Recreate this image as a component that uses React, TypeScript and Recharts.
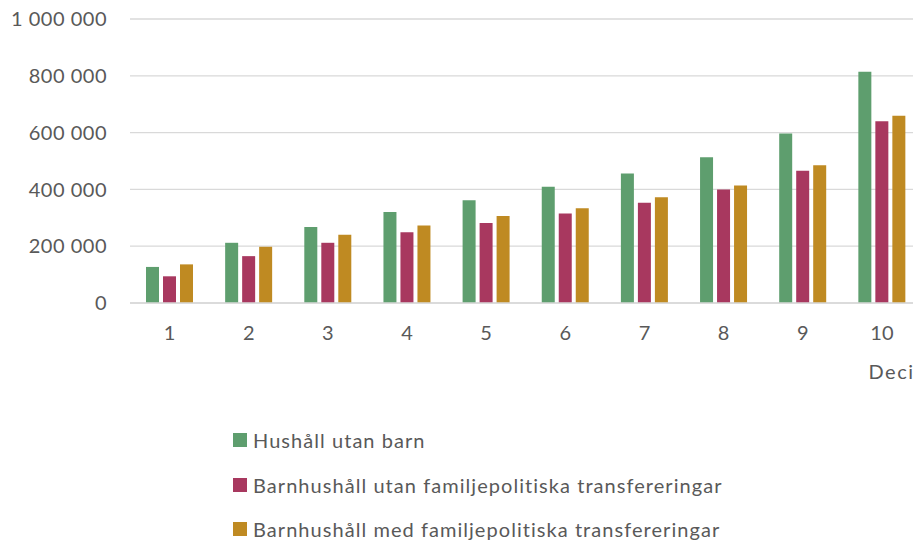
import { BarChart, Bar, XAxis, YAxis, CartesianGrid, Legend } from 'recharts'

const deciles = ['1', '2', '3', '4', '5', '6', '7', '8', '9', '10']
const utanBarn = [127000, 212000, 268000, 320000, 362000, 409000, 456000, 513000, 597000, 814000]
const barnUtanTransf = [94000, 165000, 212000, 249000, 282000, 315000, 353000, 400000, 466000, 640000]
const barnMedTransf = [136000, 198000, 240000, 273000, 306000, 334000, 372000, 414000, 485000, 659000]
const yTicks = [0, 200000, 400000, 600000, 800000, 1000000]

const series = [
  { key: 'utanBarn', name: 'Hushåll utan barn', color: '#5E9E6E' },
  { key: 'barnUtan', name: 'Barnhushåll utan familjepolitiska transfereringar', color: '#A8385F' },
  { key: 'barnMed', name: 'Barnhushåll med familjepolitiska transfereringar', color: '#BF8A22' }
]

const data = deciles.map((d, i) => ({
  decil: d,
  utanBarn: utanBarn[i],
  barnUtan: barnUtanTransf[i],
  barnMed: barnMedTransf[i]
}))

const FONT = 'Lato, sans-serif'
const TEXT = '#595959'

const fmt = (v: number) => String(v).replace(/\B(?=(\d{3})+(?!\d))/g, ' ')

function LegendBox() {
  return (
    <div style={{ fontFamily: FONT, fontSize: 20, color: TEXT, letterSpacing: 1.05 }}>
      {series.map((s) => (
        <div key={s.key} style={{ height: 44.5, display: 'flex', alignItems: 'center', whiteSpace: 'nowrap' }}>
          <span style={{ width: 14, height: 14, background: s.color, display: 'inline-block', marginRight: 6 }} />
          <span>{s.name}</span>
        </div>
      ))}
    </div>
  )
}

function DecilLabel(props: any) {
  const vb = props.viewBox || {}
  return (
    <text x={vb.x + vb.width - 53} y={vb.y + 76} fill={TEXT} fontFamily={FONT} fontSize={20} letterSpacing={1.5}>
      Decil
    </text>
  )
}

export default function App() {
  return (
    <div style={{ position: 'absolute', left: 0, top: 0, width: 913, height: 545, overflow: 'hidden', background: '#fff' }}>
      <BarChart
        width={930}
        height={545}
        data={data}
        margin={{ top: 19, right: 8.5, bottom: 165, left: 0 }}
        barSize={13}
        barGap={4}
      >
        <CartesianGrid vertical={false} stroke="#d9d9d9" strokeWidth={1.3} />
        <XAxis
          dataKey="decil"
          axisLine={{ stroke: '#d9d9d9', strokeWidth: 1.3 }}
          tickLine={false}
          tickMargin={17}
          height={77}
          tick={{ fill: TEXT, fontFamily: FONT, fontSize: 20 }}
          label={<DecilLabel />}
        />
        <YAxis
          width={130}
          domain={[0, 1000000]}
          ticks={yTicks}
          axisLine={false}
          tickLine={false}
          tickMargin={17}
          tickFormatter={fmt}
          tick={{ fill: TEXT, fontFamily: FONT, fontSize: 20, letterSpacing: 0.5 }}
        />
        <Legend
          layout="vertical"
          align="center"
          verticalAlign="middle"
          wrapperStyle={{ top: 417.75, left: 233, width: 'auto' }}
          content={<LegendBox />}
        />
        {series.map((s) => (
          <Bar key={s.key} dataKey={s.key} name={s.name} fill={s.color} isAnimationActive={false} />
        ))}
      </BarChart>
    </div>
  )
}
